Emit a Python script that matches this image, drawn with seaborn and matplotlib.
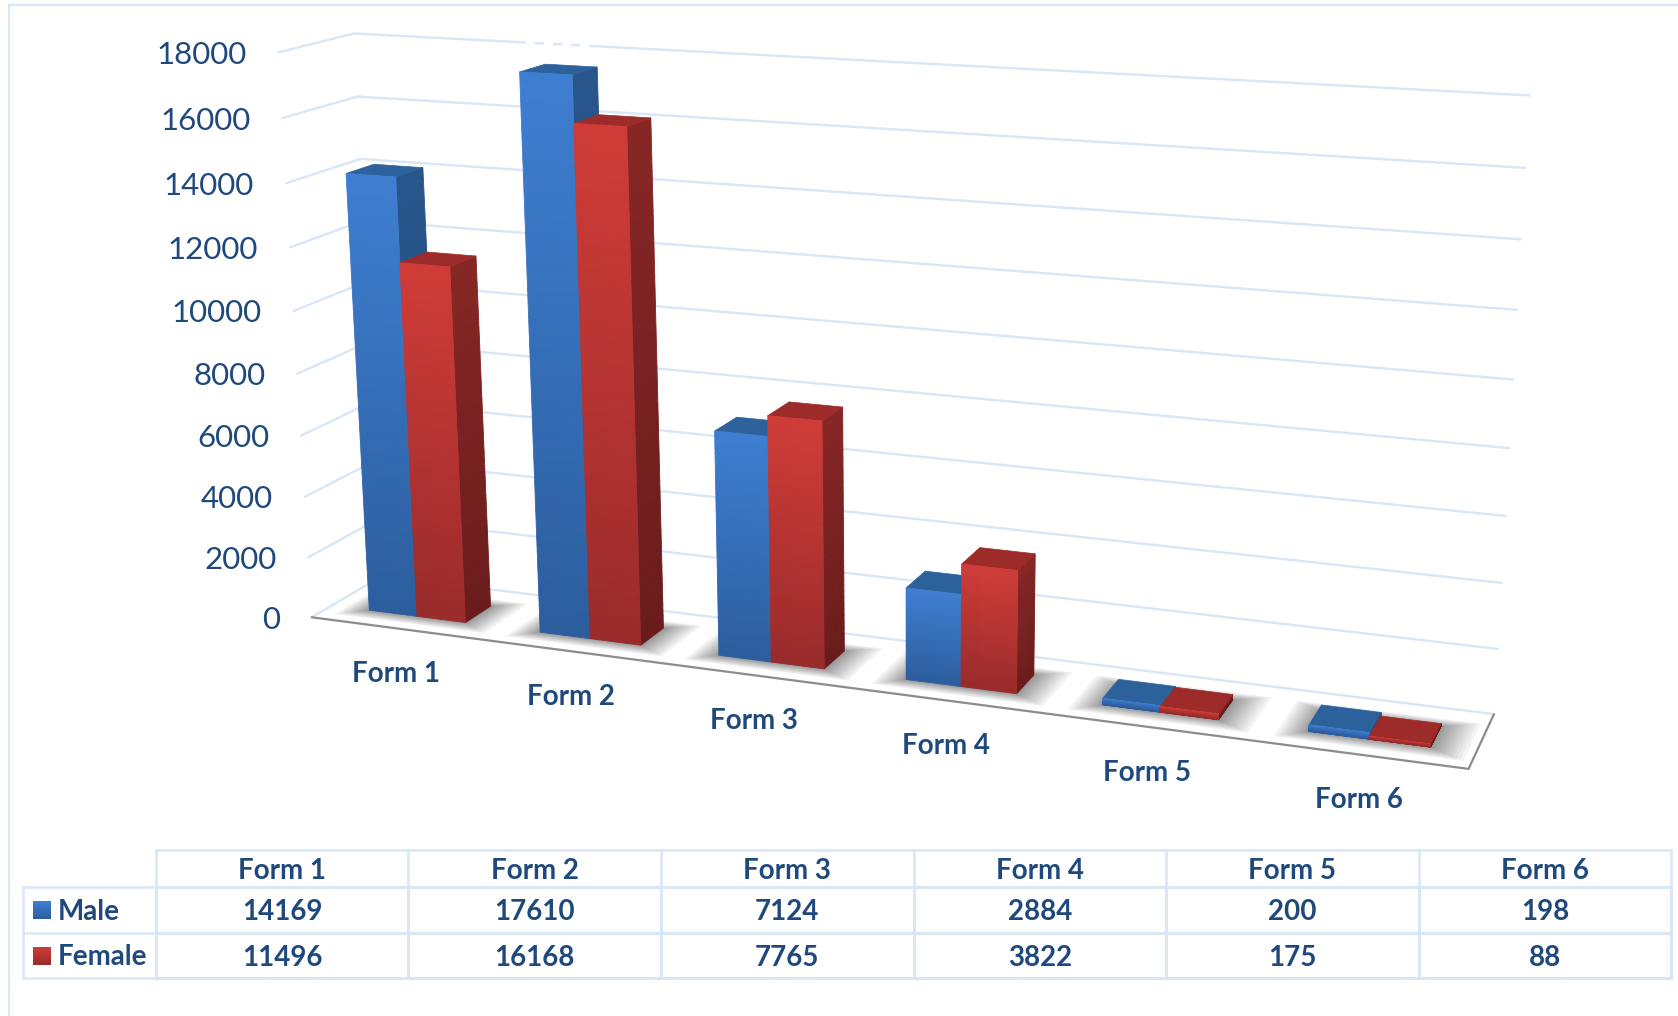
import numpy as np
import pandas as pd
import matplotlib
matplotlib.use("Agg")
import matplotlib.pyplot as plt
import seaborn as sns
from matplotlib.collections import PolyCollection

forms = ["Form 1", "Form 2", "Form 3", "Form 4", "Form 5", "Form 6"]
male = [14169, 17610, 7124, 2884, 200, 198]
female = [11496, 16168, 7765, 3822, 175, 88]
series_names = ["Male", "Female"]
value_ticks = [0, 2000, 4000, 6000, 8000, 10000, 12000, 14000, 16000, 18000]
value_max = 18000

TEXT = "#1f497d"
GRID = "#d9e6f6"
BLUE = {"front": ("#3e7ed0", "#2c5e9e"), "side": ("#28568c", "#1f4675"), "top": "#2d619c"}
RED = {"front": ("#cf3c38", "#9a2b2b"), "side": ("#862725", "#6a1c1c"), "top": "#9d2b2a"}

sns.set_theme(style="white")
plt.rcParams["font.family"] = ["Lato", "DejaVu Sans"]

# camera for the fake 3D box: (category, depth, value share) -> pixel, fitted on the box corners
anchors = [
    (0, 0, 0, 312, 617.5), (6, 0, 0, 1468.5, 769), (6, 1, 0, 1494, 714),
    (6, 1, 1, 1529, 95.3), (6, 1, 8 / 9, 1525, 168), (6, 1, 7 / 9, 1521, 239.3),
    (0, 0, 1, 278.6, 52.3), (0, 0, 8 / 9, 282.5, 118), (0, 0, 7 / 9, 286.4, 183),
    (0, 0, 5 / 9, 293.2, 311), (0, 0, 2 / 9, 304.3, 497), (0, 0, 1 / 9, 308.6, 557),
    (0, 1, 1, 354.3, 33.3), (0, 1, 8 / 9, 357.1, 96.7), (0, 1, 7 / 9, 360.4, 159),
]
rows, rhs = [], []
for X, Y, Z, px, py in anchors:
    rows.append([X, Y, Z, 1, 0, 0, 0, 0, -px * X, -px * Y, -px * Z])
    rows.append([0, 0, 0, 0, X, Y, Z, 1, -py * X, -py * Y, -py * Z])
    rhs += [px, py]
cam = np.append(np.linalg.lstsq(np.array(rows, float), np.array(rhs, float), rcond=None)[0], 1).reshape(3, 4)


def project(u, v, w):
    p = cam @ np.array([u, v, w / value_max, 1.0])
    return p[0] / p[2], p[1] / p[2]


fig = plt.figure(figsize=(16.78, 10.16), dpi=100)
ax = fig.add_axes([0, 0, 1, 1])
ax.set_xlim(0, 1678)
ax.set_ylim(1016, 0)
ax.axis("off")

# outer frame
ax.plot([9, 9], [5, 1016], color=GRID, lw=1.6)
ax.plot([9, 1678], [5, 5], color=GRID, lw=1.6)

# walls
for t in value_ticks:
    pts = [project(0, 0, t), project(0, 1, t), project(6, 1, t)]
    ax.plot(*zip(*pts), color=GRID, lw=1.7, zorder=1.5)
    x, y = project(0, 0, t)
    ax.text(x - 32, y, str(t), ha="right", va="center_baseline", color=TEXT, fontsize=22.5)

# the top line breaks up for a short stretch in the original
gap = [project(0.99, 1, value_max), project(1.37, 1, value_max)]
ax.plot(*zip(*gap), color="white", lw=2.2, ls=(0, (3, 3)), zorder=1.6)

pts = [project(0, 0, 0), project(6, 0, 0), project(6, 1, 0)]
ax.plot(*zip(*pts), color="#8c8c8c", lw=1.6, zorder=2)

centre_shift = 0.008
bar_w = 0.284
v0, v1 = 0.28, 0.66


# soft shadow around the foot of a pair of bars
def shadow(i):
    mid = i + 0.5 + centre_shift
    left, right = mid - bar_w, mid + bar_w
    rings = 14
    for k in range(rings):
        g = ((rings - k) / rings) ** 1.4
        foot = [(left - g * 0.14, v0 - g * 0.16, 0), (right + g * 0.17, v0 - g * 0.16, 0),
                (right + g * 0.17, v1 + g * 0.14, 0), (left - g * 0.14, v1 + g * 0.14, 0)]
        ax.fill(*zip(*[project(*c) for c in foot]), color="#4a4a4a", alpha=0.06, lw=0, zorder=2)


def gradient_face(corner_a, corner_b, value, colors, zorder):
    cmap = sns.blend_palette(colors, as_cmap=True)
    n = 40
    levels = np.linspace(value, 0, n + 1)
    polys, cols = [], []
    for j in range(n):
        polys.append([project(*corner_a, levels[j]), project(*corner_b, levels[j]),
                      project(*corner_b, levels[j + 1]), project(*corner_a, levels[j + 1])])
        cols.append(cmap(j / (n - 1)))
    ax.add_collection(PolyCollection(polys, facecolors=cols, edgecolors=cols, linewidths=0.6, zorder=zorder))


def bar(u0, u1, value, style, zorder):
    gradient_face((u1, v0), (u1, v1), value, style["side"], zorder)
    top = [(u0, v0, value), (u1, v0, value), (u1, v1, value), (u0, v1, value)]
    ax.fill(*zip(*[project(*c) for c in top]), color=style["top"], lw=0.5, zorder=zorder)
    gradient_face((u0, v0), (u1, v0), value, style["front"], zorder + 0.1)


for i, form in enumerate(forms):
    shadow(i)
    mid = i + 0.5 + centre_shift
    bar(mid - bar_w, mid, male[i], BLUE, 3 + i)
    bar(mid, mid + bar_w, female[i], RED, 3.5 + i)
    x, y = project(i + 0.5, 0, 0)
    ax.text(x, y + 46, form, ha="center", va="center", color=TEXT, fontsize=20, fontweight="bold", zorder=10)

# data table: body is a heatmap, its top ticks are the header
table_left, table_right, head_top, body_top, body_bottom = 155.8, 1671.3, 850, 887, 978
tax = fig.add_axes([table_left / 1678, 1 - body_bottom / 1016,
                    (table_right - table_left) / 1678, (body_bottom - body_top) / 1016])
table = pd.DataFrame([male, female], index=series_names, columns=forms)
sns.heatmap(table, ax=tax, annot=True, fmt="d", cbar=False, cmap=sns.blend_palette(["white", "white"], as_cmap=True),
            linewidths=1.8, linecolor=GRID, clip_on=False, yticklabels=False,
            annot_kws={"color": TEXT, "fontsize": 20, "fontweight": "bold"})
for t in tax.texts:
    tx, ty = t.get_position()
    t.set_position((tx, ty + 0.055))
tax.xaxis.tick_top()
tax.set_xlabel("")
tax.set_ylabel("")
tax.tick_params(axis="x", length=0, pad=2, labelsize=20, labelcolor=TEXT, rotation=0)
for label in tax.get_xticklabels():
    label.set_fontweight("bold")

col_w = (table_right - table_left) / len(forms)
for j in range(len(forms) + 1):
    ax.plot([table_left + j * col_w] * 2, [head_top, body_top], color=GRID, lw=1.8)
ax.plot([table_left, table_right], [head_top, head_top], color=GRID, lw=1.8)
row_mid = (body_top + body_bottom) / 2
for y0 in [body_top, row_mid, body_bottom]:
    ax.plot([23.2, table_left], [y0, y0], color=GRID, lw=1.8)
ax.plot([23.2, 23.2], [body_top, body_bottom], color=GRID, lw=1.8)

for name, style, y0 in zip(series_names, [BLUE, RED], [body_top, row_mid]):
    ch = sns.blend_palette(style["front"], 12)
    for k, c in enumerate(ch):
        ax.fill_between([33, 50.5], y0 + 14 + k * 1.5, y0 + 14 + (k + 1) * 1.5, color=c, lw=0)
    ax.text(58, y0 + 24.5, name, ha="left", va="center", color=TEXT, fontsize=20, fontweight="bold")

fig.savefig("out.png", dpi=100, facecolor="white")
